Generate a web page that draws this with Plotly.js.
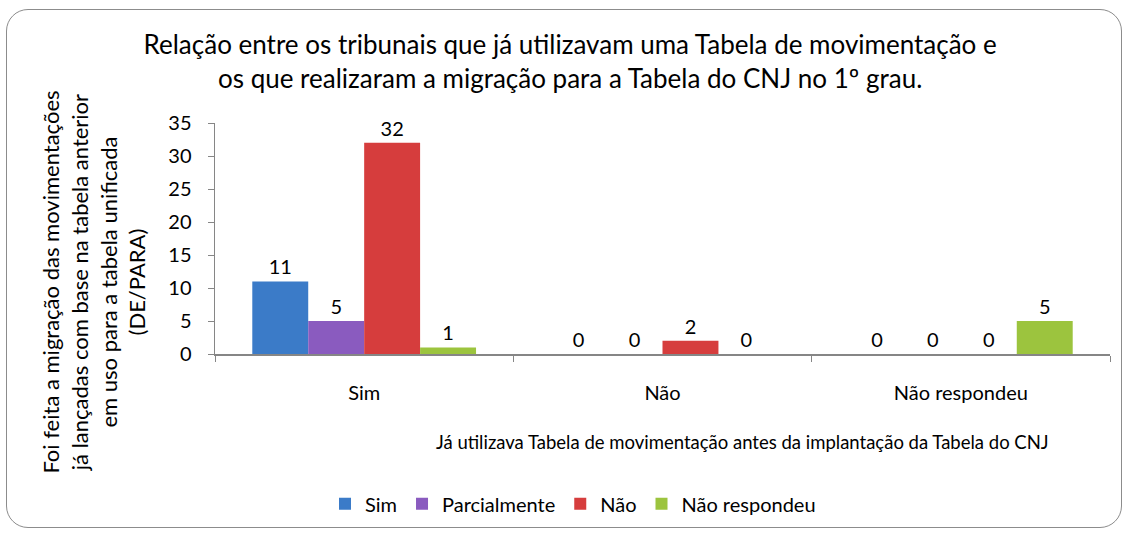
<!DOCTYPE html>
<html>
<head>
<meta charset="utf-8">
<script src="https://cdn.plot.ly/plotly-3.0.1.min.js"></script>
<style>
    html, body { margin: 0; padding: 0; background: #ffffff; }
    #moldura {
        position: absolute; left: 6px; top: 9px; width: 1116px; height: 519px;
        border: 1.5px solid #8c8c8c; border-radius: 22px; box-sizing: border-box;
    }
    #grafico { position: absolute; left: 0; top: 0; width: 1129px; height: 536px; }
</style>
</head>
<body>
<div id="moldura"></div>
<div id="grafico"></div>
<script>
// Categorias do eixo X (já utilizava tabela de movimentação?)
const categorias = ['Sim', 'Não', 'Não respondeu'];

// Respostas: foi feita a migração (DE/PARA)?
const serieSim = [11, 0, 0];
const serieParcialmente = [5, 0, 0];
const serieNao = [32, 2, 0];
const serieNaoRespondeu = [1, 0, 5];

const nomesSeries = ['Sim', 'Parcialmente', 'Não', 'Não respondeu'];
const coresSeries = ['#3b7bc8', '#8a5bbf', '#d63d3d', '#9cc43e'];

const fonte = "Lato, 'Open Sans', sans-serif";

const valores = [serieSim, serieParcialmente, serieNao, serieNaoRespondeu];

const data = valores.map(function(v, i) {
    return {
        x: categorias,
        y: v,
        name: nomesSeries[i],
        type: 'bar',
        text: v.map(String),
        textposition: 'outside',
        cliponaxis: false,
        textfont: { family: fonte, size: 20, color: '#000000' },
        marker: {
            color: coresSeries[i],
            line: { width: 0 }
        }
    };
});

const layout = {
    width: 1129,
    height: 536,
    barmode: 'group',
    bargap: 0.25,
    bargroupgap: 0,
    paper_bgcolor: 'rgba(0,0,0,0)',
    plot_bgcolor: 'rgba(0,0,0,0)',
    font: { family: fonte, color: '#000000', size: 20 },
    margin: { l: 215, r: 19, t: 123, b: 180 },
    title: {
        text: 'Relação entre os tribunais que já utilizavam uma Tabela de movimentação e<br>os que realizaram a migração para a Tabela do CNJ no 1º grau.',
        font: { family: fonte, size: 26, color: '#000000' },
        x: 0.505,
        xanchor: 'center',
        yref: 'container',
        y: 0.899,
        yanchor: 'top'
    },
    xaxis: {
        showline: true,
        linecolor: '#868686',
        linewidth: 1.5,
        ticks: 'outside',
        tickson: 'boundaries',
        ticklen: 6,
        tickcolor: '#868686',
        ticklabelstandoff: 20,
        tickfont: { family: fonte, size: 20, color: '#000000' },
        showgrid: false
    },
    yaxis: {
        range: [0, 35],
        dtick: 5,
        showline: true,
        linecolor: '#868686',
        linewidth: 1.5,
        ticks: 'outside',
        ticklen: 6,
        tickcolor: '#868686',
        ticklabelstandoff: 12,
        tickfont: { family: fonte, size: 20, color: '#000000' },
        showgrid: false,
        zeroline: false
    },
    annotations: [
        {
            // título do eixo Y (fora do centro da área de plotagem, como no original)
            text: 'Foi feita a migração das movimentações<br>já lançadas com base na tabela anterior<br>em uso para a tabela unificada<br>(DE/PARA)',
            textangle: -90,
            xref: 'paper', yref: 'paper',
            x: (94 - 215) / 895, y: (356 - 284) / 233,
            xanchor: 'center', yanchor: 'middle',
            showarrow: false,
            font: { family: fonte, size: 22, color: '#000000' }
        },
        {
            // título do eixo X
            text: 'Já utilizava Tabela de movimentação antes da implantação da Tabela do CNJ',
            xref: 'paper', yref: 'paper',
            x: (742 - 215) / 895, y: (356 - 445) / 233,
            xanchor: 'center', yanchor: 'middle',
            showarrow: false,
            font: { family: fonte, size: 18.5, color: '#000000' }
        }
    ],
    legend: {
        orientation: 'h',
        x: (573 - 215) / 895,
        xanchor: 'center',
        y: (356 - 507) / 233,
        yanchor: 'middle',
        font: { family: fonte, size: 20, color: '#000000' },
        itemwidth: 30,
        traceorder: 'normal'
    }
};

Plotly.newPlot('grafico', data, layout, { displayModeBar: false, staticPlot: true });
</script>
</body>
</html>
